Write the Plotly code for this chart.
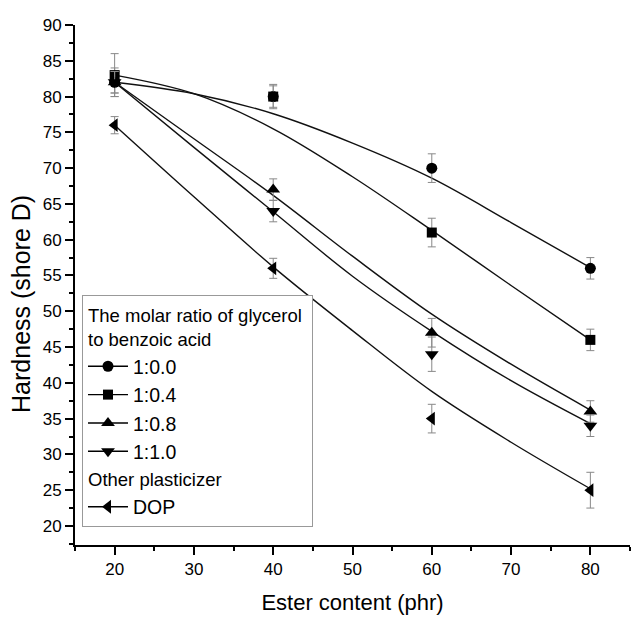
import plotly.graph_objects as go

# Measured hardness (shore D) versus ester content (phr)
ester = [20, 40, 60, 80]
h_100 = [82, 80, 70, 56]
e_100 = [2.0, 1.5, 2.0, 1.5]
h_104 = [83, 80, 61, 46]
e_104 = [3.0, 1.7, 2.0, 1.5]
h_108 = [82, 67, 47, 36]
e_108 = [1.5, 1.5, 2.0, 1.5]
h_110 = [82, 64, 44, 34]
e_110 = [1.5, 1.5, 2.4, 1.5]
h_dop = [76, 56, 35, 25]
e_dop = [1.2, 1.4, 2.0, 2.5]

# Fitted trend curves, sampled every 10 phr
fit_x = [20, 30, 40, 50, 60, 70, 80]
fit_100 = [82.0, 80.4, 77.6, 73.5, 68.6, 62.4, 56.1]
fit_104 = [83.0, 80.4, 75.5, 68.8, 61.3, 53.6, 46.0]
fit_108 = [82.0, 74.1, 66.2, 57.7, 49.6, 42.6, 36.2]
fit_110 = [82.0, 72.9, 63.9, 54.9, 47.2, 40.3, 34.3]
fit_dop = [76.0, 66.0, 56.2, 47.3, 38.8, 31.7, 25.2]

labels = ["1:0.0", "1:0.4", "1:0.8", "1:1.0", "DOP"]
symbols = ["circle", "square", "triangle-up", "triangle-down", "triangle-left"]
sizes = [11, 10, 12, 12, 12]
groups = ["ratio", "ratio", "ratio", "ratio", "other"]

FONT = "Liberation Sans, Arial, sans-serif"

series = [
    (h_100, e_100, fit_100),
    (h_104, e_104, fit_104),
    (h_108, e_108, fit_108),
    (h_110, e_110, fit_110),
    (h_dop, e_dop, fit_dop),
]

fig = go.Figure()

# trend curves
for (_, _, fit) in series:
    fig.add_trace(go.Scatter(
        x=fit_x, y=fit, mode="lines",
        line=dict(color="#111111", width=1.4, shape="spline", smoothing=1.0),
        showlegend=False, hoverinfo="skip",
    ))

# measured points with error bars
for (h, e, _), sym, sz in zip(series, symbols, sizes):
    fig.add_trace(go.Scatter(
        x=ester, y=h, mode="markers",
        marker=dict(symbol=sym, size=sz, color="black"),
        error_y=dict(type="data", array=e, color="#888888", thickness=1, width=4),
        showlegend=False,
    ))

# legend entries
group_titles = {
    "ratio": "The molar ratio of glycerol<br>to benzoic acid",
    "other": "Other plasticizer",
}
seen = set()
for lab, sym, sz, grp in zip(labels, symbols, sizes, groups):
    title = None
    if grp not in seen:
        title = dict(text=group_titles[grp], font=dict(family=FONT, size=18.5, color="black"))
        seen.add(grp)
    fig.add_trace(go.Scatter(
        x=[None], y=[None], mode="lines+markers", name=lab,
        legendgroup=grp, legendgrouptitle=title,
        marker=dict(symbol=sym, size=sz, color="black"),
        line=dict(color="black", width=1.4),
    ))

axis_common = dict(
    showline=True, linecolor="black", linewidth=1.8,
    ticks="outside", ticklen=8, tickwidth=1.5, tickcolor="black",
    showgrid=False, zeroline=False, mirror=False,
    tickfont=dict(family=FONT, size=17, color="black"),
)

fig.update_layout(
    width=631, height=625,
    margin=dict(l=75, r=1, t=25, b=80),
    plot_bgcolor="white", paper_bgcolor="white",
    xaxis=dict(
        range=[15, 85], dtick=10, tick0=0,
        minor=dict(dtick=5, ticks="outside", ticklen=4, tickwidth=1.5, tickcolor="black"),
        title=dict(text="Ester content (phr)", font=dict(family=FONT, size=22, color="black"), standoff=16),
        **axis_common,
    ),
    yaxis=dict(
        range=[17.34, 90], dtick=5, tick0=0,
        minor=dict(dtick=2.5, ticks="outside", ticklen=4, tickwidth=1.5, tickcolor="black"),
        **axis_common,
    ),
    annotations=[dict(
        text="Hardness (shore D)", textangle=-90,
        xref="paper", yref="paper", x=-0.096, y=0.463,
        xanchor="center", yanchor="middle", showarrow=False,
        font=dict(family=FONT, size=25, color="black"),
    )],
    legend=dict(
        x=0.0126, y=0.4808, xanchor="left", yanchor="top",
        bgcolor="white", bordercolor="#999999", borderwidth=1,
        font=dict(family=FONT, size=19.5, color="black"),
        tracegroupgap=0, itemwidth=40,
    ),
    showlegend=True,
)

fig.write_html("out.html")
